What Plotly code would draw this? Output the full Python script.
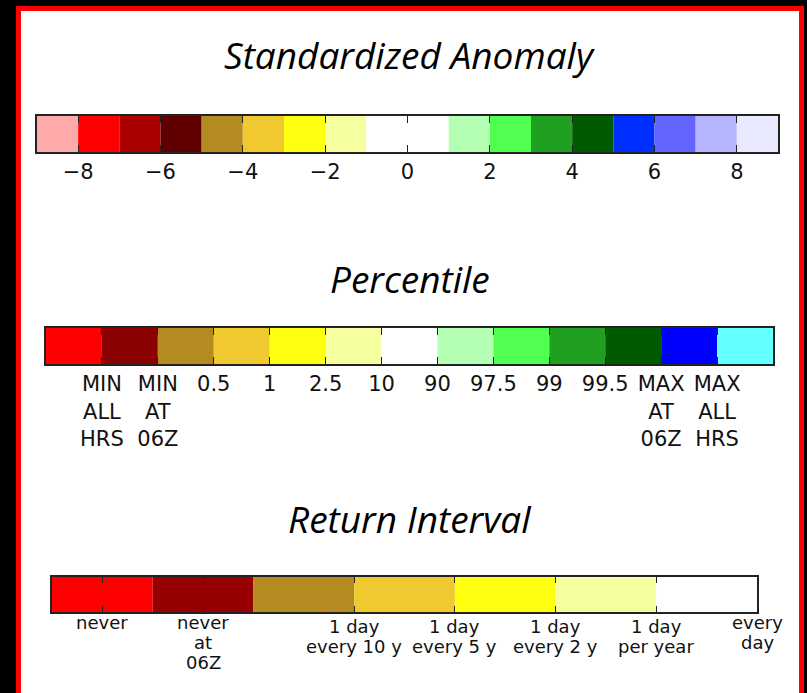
import plotly.graph_objects as go

W, H = 807, 693

# ---------------- data ----------------
anom_edges = [-9, -8, -7, -6, -5, -4, -3, -2, -1, 0, 1, 2, 3, 4, 5, 6, 7, 8, 9]
anom_colors = ["#ffaaaa", "#ff0000", "#aa0000", "#600000", "#b48b20", "#f0c830",
               "#ffff10", "#f5ffa0", "#ffffff", "#ffffff", "#b4ffb4", "#50ff50",
               "#20a020", "#005a00", "#0030ff", "#6464ff", "#b4b4ff", "#e8e8ff"]
anom_ticks = [-8, -6, -4, -2, 0, 2, 4, 6, 8]
anom_ticktext = ["−8", "−6", "−4", "−2", "0", "2", "4", "6", "8"]

pct_edges = list(range(0, 14))
pct_colors = ["#ff0000", "#8b0000", "#b48b20", "#f0c830", "#ffff10", "#f5ffa0",
              "#ffffff", "#b4ffb4", "#50ff50", "#20a020", "#005a00", "#0000ff", "#64ffff"]
pct_ticks = [1, 2, 3, 4, 5, 6, 7, 8, 9, 10, 11, 12]
pct_ticktext = ["MIN<br>ALL<br>HRS", "MIN<br>AT<br>06Z", "0.5", "1", "2.5", "10",
                "90", "97.5", "99", "99.5", "MAX<br>AT<br>06Z", "MAX<br>ALL<br>HRS"]

ret_edges = [0, 2, 4, 6, 8, 10, 12, 14]
ret_colors = ["#ff0000", "#960000", "#b48b20", "#f0c830", "#ffff10", "#f5ffa0", "#ffffff"]
ret_ticks = [1, 3, 6, 8, 10, 12, 14]
ret_labels = [["never"], ["never", "at", "06Z"], ["1 day", "every 10 y"],
              ["1 day", "every 5 y"], ["1 day", "every 2 y"], ["1 day", "per year"],
              ["every", "day"]]
# row offsets (px below bar bottom) per label kind
ret_row_top = [20, 20, 24, 24, 24, 24, 20]

titles = ["Standardized Anomaly", "Percentile", "Return Interval"]

# ---------------- layout helpers ----------------
def px_x(x):
    return x / W

def px_y(y):
    return 1 - y / H

bars = [
    dict(edges=anom_edges, colors=anom_colors, x0=37, x1=778, y0=116, y1=152, ticklen=7),
    dict(edges=pct_edges, colors=pct_colors, x0=46, x1=773, y0=328, y1=364, ticklen=7),
    dict(edges=ret_edges, colors=ret_colors, x0=52, x1=757, y0=577, y1=612, ticklen=6),
]

fig = go.Figure()
layout = {}
for i, b in enumerate(bars):
    n = i + 1
    xa = "x" if n == 1 else f"x{n}"
    ya = "y" if n == 1 else f"y{n}"
    starts = b["edges"][:-1]
    widths = [b["edges"][k + 1] - b["edges"][k] for k in range(len(starts))]
    fig.add_trace(go.Bar(
        orientation="h", y=[0] * len(starts), x=widths, base=starts,
        width=1, marker=dict(color=b["colors"], line=dict(width=0)),
        xaxis=xa, yaxis=ya, hoverinfo="skip", showlegend=False,
    ))
    layout[f"xaxis{'' if n == 1 else n}"] = dict(
        domain=[px_x(b["x0"]), px_x(b["x1"])],
        range=[b["edges"][0], b["edges"][-1]],
        anchor=ya, showgrid=False, zeroline=False,
        showline=True, linecolor="#222222", linewidth=2, mirror="ticks",
        ticks="inside", ticklen=b["ticklen"], tickwidth=1.2, tickcolor="#222222",
        layer="above traces", fixedrange=True,
    )
    layout[f"yaxis{'' if n == 1 else n}"] = dict(
        domain=[px_y(b["y1"]), px_y(b["y0"])],
        range=[-0.5, 0.5], anchor=xa, showgrid=False, zeroline=False,
        showline=True, linecolor="#222222", linewidth=2, mirror=True,
        showticklabels=False, ticks="", fixedrange=True,
    )

layout["xaxis"].update(tickvals=anom_ticks, ticktext=anom_ticktext,
                       tickfont=dict(family="DejaVu Sans", size=21, color="#111111"))
layout["xaxis2"].update(tickvals=pct_ticks, ticktext=pct_ticktext,
                        tickfont=dict(family="DejaVu Sans", size=21, color="#111111"))
layout["xaxis3"].update(tickvals=ret_ticks, showticklabels=False)

fig.update_layout(**layout)

annotations = []
title_y = [55, 278, 518]
for t, ty in zip(titles, title_y):
    annotations.append(dict(
        text=t, x=0.508, y=px_y(ty), xref="paper", yref="paper",
        xanchor="center", yanchor="middle", showarrow=False,
        font=dict(family="Open Sans", size=37, color="#000000", style="italic"),
    ))

b3 = bars[2]
line_h = 20
for tv, lines, top in zip(ret_ticks, ret_labels, ret_row_top):
    for k, ln in enumerate(lines):
        annotations.append(dict(
            text=ln, x=tv, xref="x3", y=px_y(b3["y1"] + top + k * line_h - 10),
            yref="paper", xanchor="center", yanchor="middle", showarrow=False,
            font=dict(family="DejaVu Sans", size=18, color="#111111"),
        ))

shapes = [dict(type="rect", xref="paper", yref="paper",
               x0=px_x(18.5), x1=px_x(801.5), y0=px_y(720), y1=px_y(8.5),
               line=dict(color="#ff0000", width=5), fillcolor="#ffffff", layer="below")]

fig.update_layout(
    width=W, height=H, margin=dict(l=0, r=0, t=0, b=0),
    paper_bgcolor="#000000", plot_bgcolor="#ffffff",
    annotations=annotations, shapes=shapes, showlegend=False,
)

fig.write_html("out.html", config={"displayModeBar": False})
